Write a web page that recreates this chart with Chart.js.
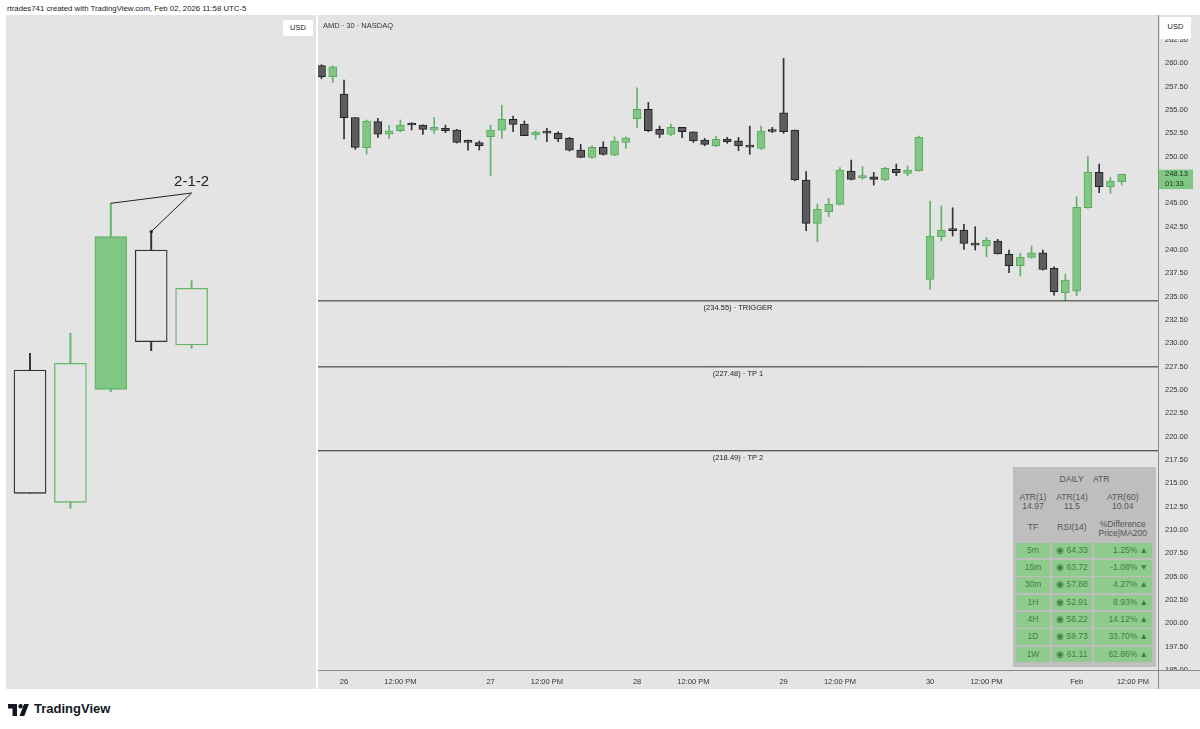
<!DOCTYPE html>
<html>
<head>
<meta charset="utf-8">
<title>AMD 30 - 2-1-2</title>
<script src="https://cdn.jsdelivr.net/npm/chart.js@4.4.1/dist/chart.umd.min.js"></script>
<style>
  body { margin: 0; width: 1200px; height: 729px; background: #fff; position: relative; overflow: hidden;
         font-family: "Liberation Sans", Arial, sans-serif; }
  .abs { position: absolute; }
  #credit { left: 7px; top: 4px; font-size: 7.8px; color: #222; white-space: nowrap; }
  .pane { background: #e4e4e4; }
  #leftPane { left: 6px; top: 15px; width: 310px; height: 674px; }
  #rightPane { left: 318px; top: 15px; width: 882px; height: 674px; }
  canvas { position: absolute; left: 0; top: 0; }
  .usd { background: #fff; font-size: 7.5px; color: #222; text-align: center; }
  #title { left: 323px; top: 21px; font-size: 7.5px; color: #333; white-space: nowrap; }
  #stats { left: 1013px; top: 467px; width: 143px; height: 200px; background: #bebebe; font-size: 8.5px; color: #555; }
  #stats div { position: absolute; white-space: nowrap; line-height: 9px; }
  .cell { background: #8fcb8f; color: #3d7f3d; }
  #brand { left: 34px; top: 701px; font-size: 13px; font-weight: bold; color: #131722; }
</style>
</head>
<body>
<div id="credit" class="abs">rtrades741 created with TradingView.com, Feb 02, 2026 11:58 UTC-5</div>

<div id="leftPane" class="abs pane"><canvas id="patternChart" width="310" height="674"></canvas></div>
<div class="abs usd" style="left:283px;top:20px;width:30px;height:16px;line-height:16px;">USD</div>

<div id="rightPane" class="abs pane"><canvas id="priceChart" width="882" height="674"></canvas></div>
<div id="title" class="abs">AMD · 30 · NASDAQ</div>
<div class="abs usd" style="left:1160px;top:17px;width:31px;height:22px;line-height:20px;">USD</div>

<div id="stats" class="abs"></div>

<svg class="abs" style="left:8px;top:703px" width="24" height="14" viewBox="0 0 24 14">
  <path d="M0 1h9v12h-4.5v-7.5h-4.5z" fill="#131722"/>
  <circle cx="12.6" cy="3.3" r="2.2" fill="#131722"/>
  <path d="M11.5 13l4.6-12h4.8l-4.6 12z" fill="#131722"/>
</svg>
<div id="brand" class="abs">TradingView</div>

<script>
// AMD 30m candles, Fri 23 Jan 15:00 -> Mon 02 Feb 11:30
const opens = [259.75, 258.57, 256.71, 254.18, 250.96, 253.75, 252.42, 252.78, 253.45, 253.39,
  252.85, 253.03, 252.85, 251.71, 251.50, 252.14, 252.85, 253.99, 253.50, 252.32,
  252.60, 252.50, 251.96, 250.71, 249.93, 250.99, 250.17, 251.53, 254.07, 255.07,
  252.93, 252.39, 253.14, 252.67, 251.78, 251.17, 251.89, 251.71, 251.14, 250.89,
  252.75, 254.71, 252.85, 247.50, 242.85, 244.10, 244.89, 248.46, 247.75, 247.85,
  247.50, 248.64, 248.21, 248.50, 236.85, 241.43, 242.14, 242.14, 240.71, 240.42,
  240.96, 239.53, 238.32, 239.21, 239.71, 238.03, 235.43, 235.60, 244.53, 248.32,
  246.78, 247.32];
const highs = [259.85, 259.75, 258.21, 254.20, 253.93, 254.10, 253.35, 253.93, 253.64, 253.40,
  254.21, 253.39, 252.93, 251.78, 251.67, 253.39, 255.53, 254.35, 253.82, 252.75,
  253.03, 252.67, 252.07, 251.32, 251.17, 251.60, 252.14, 252.14, 257.39, 255.82,
  253.28, 253.50, 253.14, 252.67, 251.96, 252.21, 252.07, 252.07, 253.28, 253.28,
  253.14, 260.53, 252.85, 248.39, 244.93, 245.53, 248.82, 249.64, 248.93, 248.32,
  248.85, 249.21, 249.00, 252.21, 245.25, 244.71, 244.53, 242.75, 242.50, 241.35,
  241.14, 240.00, 239.64, 240.42, 240.00, 238.21, 237.42, 245.71, 250.00, 249.21,
  247.78, 248.13];
const lows = [258.35, 257.96, 251.89, 250.78, 250.28, 252.07, 251.96, 252.67, 252.85, 252.39,
  252.50, 252.57, 251.46, 250.71, 250.71, 247.96, 251.96, 252.67, 252.25, 251.85,
  251.60, 251.60, 250.60, 249.89, 249.82, 250.17, 250.10, 250.89, 253.10, 252.67,
  252.03, 252.25, 252.03, 251.53, 251.17, 251.07, 251.43, 250.64, 250.25, 250.78,
  252.57, 252.50, 247.43, 242.07, 240.89, 243.57, 244.82, 247.50, 247.57, 246.96,
  247.43, 247.96, 247.96, 248.46, 235.78, 240.96, 241.50, 240.07, 240.00, 239.28,
  239.57, 237.57, 237.21, 239.10, 237.85, 235.17, 234.57, 235.10, 244.46, 246.14,
  246.07, 246.96];
const closes = [258.57, 259.64, 254.18, 250.99, 253.82, 252.42, 252.78, 253.39, 253.39, 252.93,
  253.14, 252.78, 251.53, 251.53, 251.18, 252.85, 253.99, 253.46, 252.25, 252.64,
  252.53, 251.89, 250.71, 249.93, 250.99, 250.25, 251.67, 252.03, 255.07, 252.78,
  252.39, 253.14, 252.67, 251.71, 251.32, 251.85, 251.60, 251.14, 251.03, 252.75,
  252.70, 252.67, 247.50, 242.85, 244.35, 244.93, 248.57, 247.57, 247.85, 247.57,
  248.75, 248.28, 248.57, 252.07, 241.50, 242.14, 242.07, 240.71, 240.53, 241.07,
  239.57, 238.32, 239.21, 239.71, 237.93, 235.53, 236.78, 244.57, 248.32, 246.78,
  247.39, 248.13];

// x axis: bar index of each label
const tickIndex = [2, 7, 15, 20, 28, 33, 41, 46, 54, 59, 67, 72];
const tickLabels = ['26', '12:00 PM', '27', '12:00 PM', '28', '12:00 PM', '29', '12:00 PM', '30', '12:00 PM', 'Feb', '12:00 PM'];
const countdown = '01:33';

// horizontal levels
const levels = [234.55, 227.48, 218.49];
const levelNames = ['TRIGGER', 'TP 1', 'TP 2'];

// 2-1-2 sketch (left pane), arbitrary levels
const patternOpen  = [319.0, 186.7, 299.7, 439.0, 344.0];
const patternHigh  = [335.7, 355.7, 485.7, 457.3, 408.3];
const patternLow   = [195.7, 180.7, 297.3, 338.3, 340.7];
const patternClose = [195.7, 325.7, 452.3, 347.3, 400.7];
const patternFilled = [false, false, true, false, false];
const patternLabel = '2-1-2';

// stats table
const atrLabels = ['ATR(1)', 'ATR(14)', 'ATR(60)'];
const atrValues = ['14.97', '11.5', '10.04'];
const tfLabels = ['5m', '15m', '30m', '1H', '4H', '1D', '1W'];
const rsiValues = [64.33, 63.72, 57.88, 52.91, 56.22, 59.73, 61.11];
const maDiffs = [1.25, -1.08, 4.27, 8.93, 14.12, 33.70, 62.86];

const PANE = '#e4e4e4';
const UP = '#81c784', UP_LINE = '#5aa95e', DOWN = '#5c5c5c', DOWN_LINE = '#222';
const FONT = '"Liberation Sans", Arial, sans-serif';

const isUp = i => closes[i] >= opens[i];
const xMin = -0.31, xMax = 74.22;

const priceOverlay = {
    id: 'priceOverlay',
    afterDatasetsDraw(chart) {
        const { ctx, chartArea, scales: { y } } = chart;
        ctx.save();
        ctx.font = `7.5px ${FONT}`;
        ctx.fillStyle = '#222';
        ctx.textAlign = 'center';
        ctx.textBaseline = 'middle';
        levels.forEach((l, k) => {
            ctx.fillText(`(${l.toFixed(2)}) · ${levelNames[k]}`, (chartArea.left + chartArea.right) / 2, y.getPixelForValue(l) + 7.5);
        });
        ctx.restore();
    },
    afterDraw(chart) {
        const { ctx, chartArea, scales: { y } } = chart;
        ctx.save();
        // hide lower half of the bottom price label
        ctx.fillStyle = PANE;
        ctx.fillRect(chartArea.right + 1, chartArea.bottom + 1, 60, 30);
        ctx.strokeStyle = '#8a8a8a';
        ctx.lineWidth = 1;
        ctx.beginPath();
        ctx.moveTo(chartArea.right + 0.5, 0);
        ctx.lineTo(chartArea.right + 0.5, chart.height);
        ctx.moveTo(0, chartArea.bottom + 0.5);
        ctx.lineTo(chart.width, chartArea.bottom + 0.5);
        ctx.stroke();
        // last price label
        const last = closes[closes.length - 1];
        const py = y.getPixelForValue(last);
        ctx.fillStyle = UP;
        ctx.fillRect(chartArea.right + 1, py - 4.5, 34, 19.5);
        ctx.fillStyle = '#17351a';
        ctx.font = `7.5px ${FONT}`;
        ctx.textAlign = 'left';
        ctx.textBaseline = 'middle';
        ctx.fillText(last.toFixed(2), chartArea.right + 7, py);
        ctx.fillText(countdown, chartArea.right + 7, py + 10);
        ctx.restore();
    }
};

new Chart(document.getElementById('priceChart'), {
    type: 'bar',
    data: {
        datasets: [
            {
                data: opens.map((o, i) => ({ x: i, y: [o, closes[i]] })),
                backgroundColor: ctx => isUp(ctx.dataIndex) ? UP : DOWN,
                borderColor: ctx => isUp(ctx.dataIndex) ? UP_LINE : DOWN_LINE,
                borderWidth: 1,
                borderSkipped: false,
                barThickness: 8,
                minBarLength: 2,
                grouped: false,
                order: 1
            },
            {
                data: lows.map((l, i) => ({ x: i, y: [l, highs[i]] })),
                backgroundColor: ctx => isUp(ctx.dataIndex) ? '#62b266' : '#333',
                barThickness: 1,
                grouped: false,
                order: 2
            },
            ...levels.map(l => ({
                type: 'line',
                data: [{ x: xMin, y: l }, { x: xMax, y: l }],
                borderColor: '#2b2b2b',
                borderWidth: 1,
                pointRadius: 0,
                order: 0
            }))
        ]
    },
    options: {
        responsive: false,
        animation: false,
        events: [],
        layout: { padding: 0 },
        plugins: { legend: { display: false }, tooltip: { enabled: false } },
        scales: {
            x: {
                type: 'linear',
                offset: false,
                min: xMin,
                max: xMax,
                grid: { display: false, drawTicks: false, offset: false },
                border: { display: false },
                ticks: {
                    padding: 7,
                    autoSkip: false,
                    maxRotation: 0,
                    color: '#333',
                    font: { family: FONT, size: 7.5 },
                    callback: (v, i) => tickLabels[i]
                },
                afterBuildTicks: s => { s.ticks = tickIndex.map(v => ({ value: v })); },
                afterFit: s => { s.height = 19; s.paddingLeft = 0; s.paddingRight = 0; }
            },
            y: {
                position: 'right',
                min: 195,
                max: 265.18,
                grid: { display: false, drawTicks: false },
                border: { display: false },
                ticks: {
                    stepSize: 2.5,
                    includeBounds: false,
                    padding: 7,
                    color: '#333',
                    font: { family: FONT, size: 7.5 },
                    callback: v => v.toFixed(2)
                },
                afterBuildTicks: s => { s.ticks = s.ticks.filter(t => t.value <= 262.5); },
                afterFit: s => { s.width = 42; s.paddingTop = 0; s.paddingBottom = 0; }
            }
        }
    },
    plugins: [priceOverlay]
});

const patternNotes = {
    id: 'patternNotes',
    afterDraw(chart) {
        const { ctx, scales: { x, y } } = chart;
        const ax = x.getPixelForValue(4), ay = y.getPixelForValue(496);
        ctx.save();
        ctx.strokeStyle = '#222';
        ctx.lineWidth = 1;
        ctx.beginPath();
        ctx.moveTo(x.getPixelForValue(2), y.getPixelForValue(patternHigh[2]));
        ctx.lineTo(ax, ay);
        ctx.moveTo(x.getPixelForValue(3), y.getPixelForValue(patternHigh[3]));
        ctx.lineTo(ax, ay);
        ctx.stroke();
        ctx.fillStyle = '#222';
        ctx.beginPath();
        ctx.arc(x.getPixelForValue(3), y.getPixelForValue(patternHigh[3]), 1.6, 0, Math.PI * 2);
        ctx.fill();
        ctx.font = `15px ${FONT}`;
        ctx.textAlign = 'center';
        ctx.textBaseline = 'middle';
        ctx.fillText(patternLabel, ax, y.getPixelForValue(507));
        ctx.restore();
    }
};

const pUp = i => patternClose[i] >= patternOpen[i];
new Chart(document.getElementById('patternChart'), {
    type: 'bar',
    data: {
        datasets: [
            {
                data: patternOpen.map((o, i) => ({ x: i, y: [o, patternClose[i]] })),
                backgroundColor: ctx => patternFilled[ctx.dataIndex] ? UP : PANE,
                borderColor: ctx => pUp(ctx.dataIndex) ? '#66b36a' : '#333',
                borderWidth: 1.3,
                borderSkipped: false,
                barThickness: 32,
                grouped: false,
                order: 1
            },
            {
                data: patternLow.map((l, i) => ({ x: i, y: [l, patternHigh[i]] })),
                backgroundColor: ctx => pUp(ctx.dataIndex) ? '#66b36a' : '#333',
                barThickness: 1.3,
                grouped: false,
                order: 2
            }
        ]
    },
    options: {
        responsive: false,
        animation: false,
        events: [],
        layout: { padding: 0 },
        plugins: { legend: { display: false }, tooltip: { enabled: false } },
        scales: {
            x: { type: 'linear', offset: false, display: false, min: -0.594, max: 7.079 },
            y: { display: false, min: 0, max: 674 }
        }
    },
    plugins: [patternNotes]
});

// stats table
const stats = document.getElementById('stats');
const put = (html, css, cls) => {
    const d = document.createElement('div');
    d.innerHTML = html;
    d.style.cssText = css;
    if (cls) d.className = cls;
    stats.appendChild(d);
};
const cols = [[3, 34], [39, 40], [80.5, 58.5]];
put('DAILY&nbsp;&nbsp;&nbsp;&nbsp;ATR', 'left:0;width:143px;top:7.5px;text-align:center;');
atrLabels.forEach((t, k) => {
    put(t + '<br>' + atrValues[k], `left:${cols[k][0]}px;width:${cols[k][1]}px;top:25.5px;text-align:center;`);
});
put('TF', `left:${cols[0][0]}px;width:${cols[0][1]}px;top:56px;text-align:center;`);
put('RSI(14)', `left:${cols[1][0]}px;width:${cols[1][1]}px;top:56px;text-align:center;`);
put('%Difference<br>Price|MA200', `left:${cols[2][0]}px;width:${cols[2][1]}px;top:52.5px;text-align:center;`);
tfLabels.forEach((tf, r) => {
    const top = 75.7 + r * 17.33;
    const base = `top:${top}px;height:15.5px;line-height:15.5px;`;
    put(tf, base + `left:${cols[0][0]}px;width:${cols[0][1]}px;text-align:center;`, 'cell');
    put('◉ ' + rsiValues[r].toFixed(2), base + `left:${cols[1][0]}px;width:${cols[1][1]}px;text-align:center;`, 'cell');
    const d = maDiffs[r];
    put(d.toFixed(2) + '% ' + (d >= 0 ? '▲' : '▼'), base + `left:${cols[2][0]}px;width:${cols[2][1] - 4}px;padding-right:4px;text-align:right;`, 'cell');
});
</script>
</body>
</html>
